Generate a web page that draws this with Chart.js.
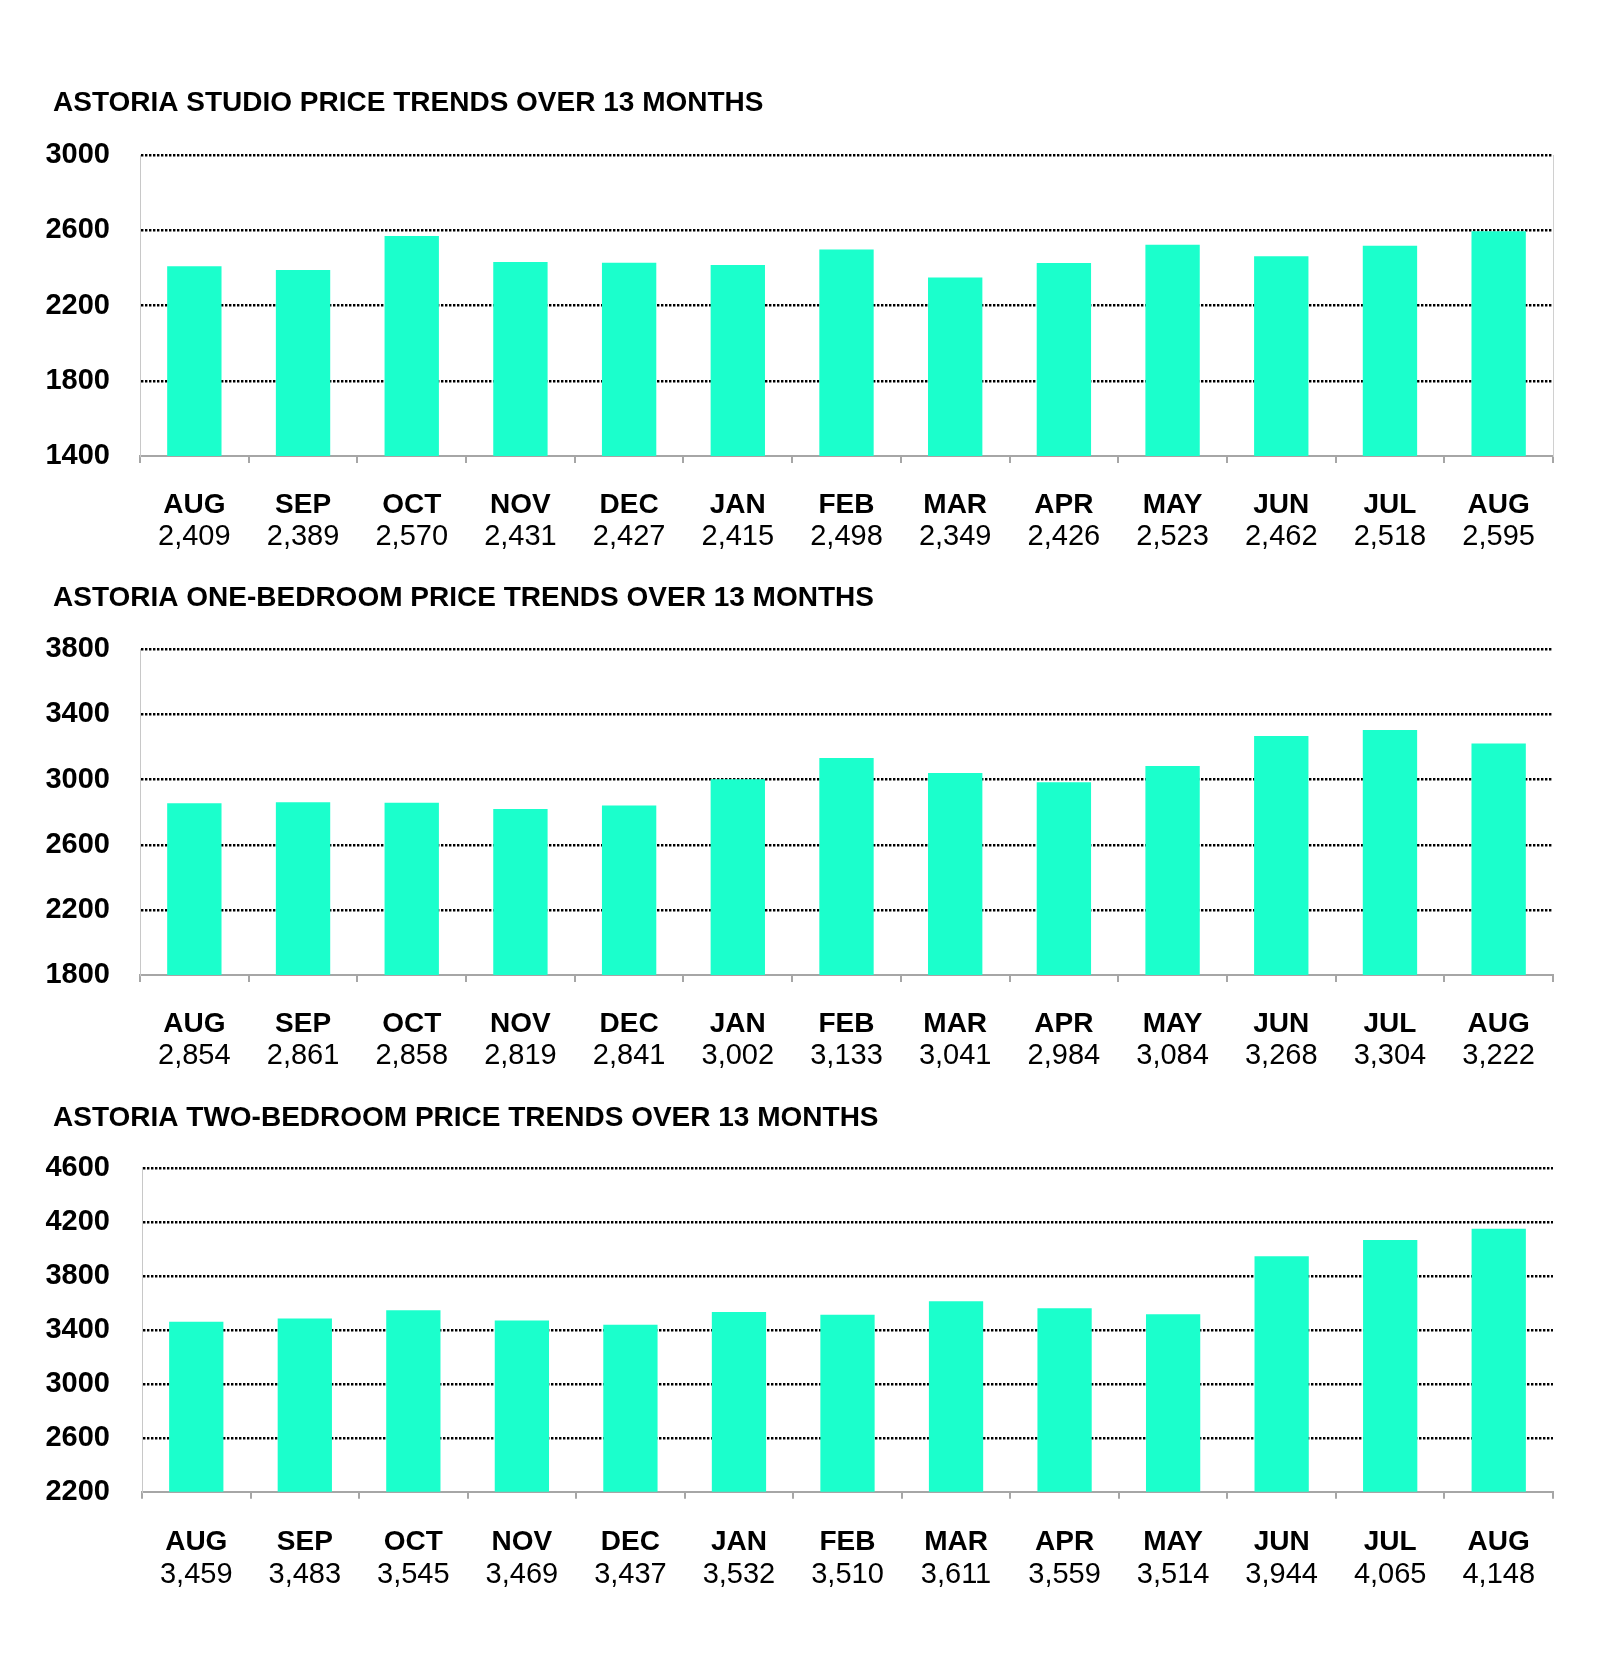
<!DOCTYPE html>
<html>
<head>
<meta charset="utf-8">
<title>Astoria price trends</title>
<script src="https://cdn.jsdelivr.net/npm/chart.js@4.4.1/dist/chart.umd.min.js"></script>
<style>
  html, body { margin: 0; padding: 0; background: #fff; }
  body { width: 1600px; height: 1674px; position: relative; overflow: hidden; }
  canvas { position: absolute; left: 0; }
</style>
</head>
<body>
<canvas id="studio" width="1600" height="560" style="top:0px"></canvas>
<canvas id="oneBed" width="1600" height="520" style="top:560px"></canvas>
<canvas id="twoBed" width="1600" height="594" style="top:1080px"></canvas>
<script>
var months = ['AUG', 'SEP', 'OCT', 'NOV', 'DEC', 'JAN', 'FEB', 'MAR', 'APR', 'MAY', 'JUN', 'JUL', 'AUG'];

var studioPrices = [2409, 2389, 2570, 2431, 2427, 2415, 2498, 2349, 2426, 2523, 2462, 2518, 2595];
var oneBedPrices = [2854, 2861, 2858, 2819, 2841, 3002, 3133, 3041, 2984, 3084, 3268, 3304, 3222];
var twoBedPrices = [3459, 3483, 3545, 3469, 3437, 3532, 3510, 3611, 3559, 3514, 3944, 4065, 4148];

var studioTicks = [1400, 1800, 2200, 2600, 3000];
var oneBedTicks = [1800, 2200, 2600, 3000, 3400, 3800];
var twoBedTicks = [2200, 2600, 3000, 3400, 3800, 4200, 4600];

var FONT = "'Liberation Sans', Arial, sans-serif";
var BAR = '#1bffcc';
var AXIS_GRAY = '#a6a6a6';
var PAD_LEFT = 20;
var TITLE_X = 53;

function fmt(v) {
    return v.toLocaleString('en-US');
}

// title sits further right than the y axis labels start
var titleShift = {
    id: 'titleShift',
    afterLayout: function (chart) {
        if (chart.titleBlock) chart.titleBlock.left = TITLE_X;
    }
};

// lay = where things sit inside the canvas (px)
function makeChart(id, title, values, ticks, lay) {
    var ctx = document.getElementById(id).getContext('2d');
    var canvasH = ctx.canvas.height;
    var yMin = ticks[0];
    var yMax = ticks[ticks.length - 1];
    var xHeight = 60;

    var scales = {
        x: {
            type: 'category',
            position: 'bottom',
            offset: true,
            weight: 0,
            grid: {
                offset: true,
                drawOnChartArea: false,
                drawTicks: true,
                tickLength: 7,
                color: AXIS_GRAY,
                lineWidth: 2
            },
            border: { display: true, color: AXIS_GRAY, width: 2 },
            ticks: {
                color: '#000',
                padding: lay.monthOff - 7 - 16.8,
                maxRotation: 0,
                autoSkip: false,
                font: { family: FONT, size: 28, weight: 'bold', lineHeight: 1.2 }
            },
            afterFit: function (s) { s.height = xHeight; }
        },
        x2: {
            type: 'category',
            position: 'bottom',
            labels: values.map(fmt),
            offset: true,
            weight: 1,
            grid: { display: false, drawTicks: false },
            border: { display: false },
            ticks: {
                color: '#000',
                padding: lay.valueOff - xHeight - 17.4,
                maxRotation: 0,
                autoSkip: false,
                font: { family: FONT, size: 29, weight: 'normal', lineHeight: 1.2 }
            },
            afterFit: function (s) { s.height = canvasH - lay.axisY - xHeight; }
        },
        y: {
            type: 'linear',
            position: 'left',
            min: yMin,
            max: yMax,
            afterBuildTicks: function (s) {
                s.ticks = ticks.map(function (v) { return { value: v }; });
            },
            grid: {
                drawTicks: false,
                lineWidth: 2.4,
                color: function (c) {
                    return c.tick && c.tick.value === yMin ? 'rgba(0,0,0,0)' : '#000';
                }
            },
            border: { display: true, color: '#c8c8c8', width: 1, dash: [2.4, 1.6] },
            ticks: {
                color: '#000',
                padding: lay.left - 110,
                callback: function (v) { return String(v); },
                font: { family: FONT, size: 29, weight: 'bold', lineHeight: 1.2 }
            },
            afterFit: function (s) { s.width = lay.left - PAD_LEFT; }
        }
    };

    if (lay.rightBorder) {
        scales.yR = {
            type: 'linear',
            position: 'right',
            display: true,
            grid: { drawOnChartArea: false, drawTicks: false },
            border: { display: true, color: '#d0d0d0', width: 1 },
            ticks: { display: false },
            afterFit: function (s) { s.width = 0; }
        };
    }

    return new Chart(ctx, {
        type: 'bar',
        data: {
            labels: months,
            datasets: [{
                label: title,
                data: values,
                backgroundColor: BAR,
                borderWidth: 0,
                barPercentage: 0.5,
                categoryPercentage: 1,
                xAxisID: 'x',
                yAxisID: 'y'
            }]
        },
        options: {
            responsive: false,
            animation: false,
            devicePixelRatio: 1,
            layout: { padding: { left: PAD_LEFT, right: 47, top: 0, bottom: 0 } },
            plugins: {
                legend: { display: false },
                tooltip: { enabled: false },
                title: {
                    display: true,
                    text: title,
                    align: 'start',
                    color: '#000',
                    font: { family: FONT, size: 28, weight: 'bold', lineHeight: 1.2 },
                    padding: {
                        top: lay.titleY - 16.8,
                        bottom: lay.plotTop - lay.titleY - 16.8
                    }
                }
            },
            scales: scales
        },
        plugins: [titleShift]
    });
}

makeChart('studio', 'ASTORIA STUDIO PRICE TRENDS OVER 13 MONTHS', studioPrices, studioTicks,
    { titleY: 103.5, plotTop: 155, axisY: 456, monthOff: 49, valueOff: 80.5, left: 140, rightBorder: true });

makeChart('oneBed', 'ASTORIA ONE-BEDROOM PRICE TRENDS OVER 13 MONTHS', oneBedPrices, oneBedTicks,
    { titleY: 38, plotTop: 89.3, axisY: 415, monthOff: 49.5, valueOff: 81, left: 140, rightBorder: false });

makeChart('twoBed', 'ASTORIA TWO-BEDROOM PRICE TRENDS OVER 13 MONTHS', twoBedPrices, twoBedTicks,
    { titleY: 38.3, plotTop: 87.7, axisY: 411.7, monthOff: 51, valueOff: 83, left: 142, rightBorder: false });
</script>
</body>
</html>
